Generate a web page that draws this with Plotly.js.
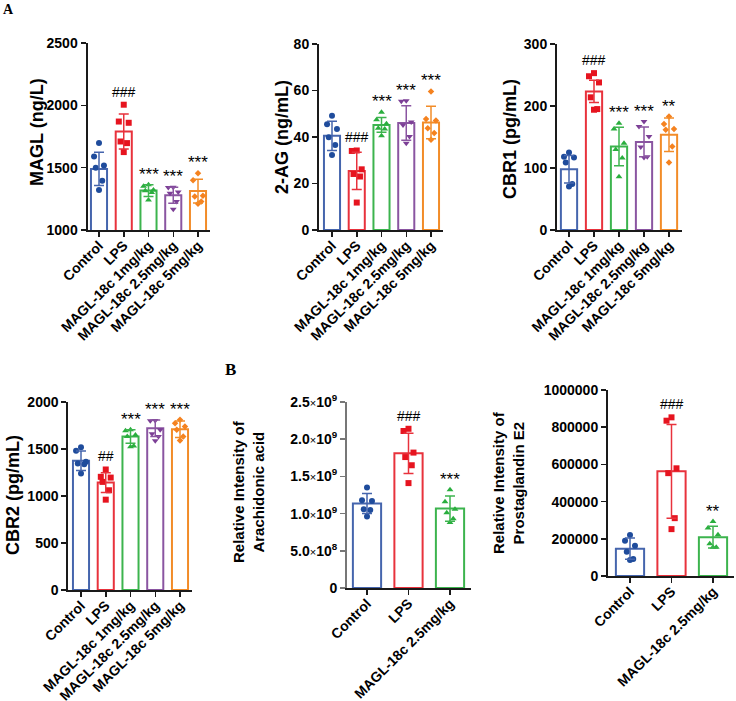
<!DOCTYPE html>
<html><head><meta charset="utf-8">
<script src="https://cdn.plot.ly/plotly-3.0.1.min.js"></script>
<style>html,body{margin:0;padding:0;background:#fff}#chart{width:736px;height:701px}</style>
</head><body><div id="chart"></div>
<script>
// ---------------- data ----------------
const groups5 = ['Control', 'LPS', 'MAGL-18c 1mg/kg', 'MAGL-18c 2.5mg/kg', 'MAGL-18c 5mg/kg'];
const groups3 = ['Control', 'LPS', 'MAGL-18c 2.5mg/kg'];

const maglPoints = [[1697, 1590, 1517, 1500, 1396, 1320], [2005, 1870, 1860, 1710, 1697, 1625], [1362, 1350, 1320, 1315, 1300, 1240], [1343, 1340, 1305, 1295, 1228, 1166], [1455, 1400, 1275, 1268, 1228, 1210]];
const maglMean = [1490, 1790, 1316, 1278, 1312];
const maglSD = [134, 140, 47, 64, 96];
const maglMarks = ['', '###', '***', '***', '***'];

const agPoints = [[49.1, 45.5, 43.4, 39.9, 36.6, 32.3], [34.2, 34.0, 26.1, 24.1, 23.0, 11.8], [50.6, 47.4, 45.7, 43.8, 43.4, 40.5], [55.6, 55.4, 46.5, 45.2, 40.2, 37.3], [59.6, 47.7, 47.1, 43.8, 41.7, 38.8]];
const agMean = [40.5, 25.4, 45.2, 46.0, 46.2];
const agSD = [6.3, 8.0, 3.2, 7.4, 7.0];
const agMarks = ['', '###', '***', '***', '***'];

const cbr1Points = [[125, 118, 117, 109, 74, 70], [253, 248, 238, 214, 195, 194], [172, 163, 140, 130, 116, 86], [175, 167, 151, 134, 118, 117], [183, 171, 163, 161.6, 134.6, 109]];
const cbr1Mean = [98, 223.5, 134.6, 142, 153.5];
const cbr1SD = [22, 18, 31, 24, 27];
const cbr1Marks = ['', '###', '***', '***', '**'];

const cbr2Points = [[1518, 1482, 1364, 1346, 1339, 1239], [1282, 1204, 1196, 1150, 1061, 961], [1704, 1693, 1650, 1632, 1532, 1525], [1804, 1800, 1704, 1661, 1632, 1589], [1811, 1775, 1740, 1704, 1632, 1590]];
const cbr2Mean = [1375, 1143, 1632, 1721, 1711];
const cbr2SD = [105, 105, 72, 88, 88];
const cbr2Marks = ['', '##', '***', '***', '***'];

const aaPoints = [[1.35e9, 1.18e9, 1.17e9, 1.06e9, 1.05e9, 0.96e9], [2.14e9, 2.11e9, 1.82e9, 1.76e9, 1.65e9, 1.41e9], [1.32e9, 1.16e9, 1.06e9, 1.01e9, 0.93e9, 0.88e9]];
const aaMean = [1.135e9, 1.81e9, 1.067e9];
const aaSD = [0.135e9, 0.27e9, 0.17e9];
const aaMarks = ['', '###', '***'];
const aaTickVals = [0, 0.5e9, 1.0e9, 1.5e9, 2.0e9, 2.5e9];
const aaTickText = ['0', '5.0<span style="font-size:11px;font-weight:400">×</span>10<sup>8</sup>', '1.0<span style="font-size:11px;font-weight:400">×</span>10<sup>9</sup>', '1.5<span style="font-size:11px;font-weight:400">×</span>10<sup>9</sup>', '2.0<span style="font-size:11px;font-weight:400">×</span>10<sup>9</sup>', '2.5<span style="font-size:11px;font-weight:400">×</span>10<sup>9</sup>'];

const pgePoints = [[220000, 190000, 162000, 130000, 92000, 86000], [853000, 835000, 579000, 553000, 311000, 252000], [293000, 258000, 222000, 173000, 155000, 155000]];
const pgeMean = [147000, 563000, 209000];
const pgeSD = [57000, 252000, 58000];
const pgeMarks = ['', '###', '**'];

// ---------------- styling / layout ----------------
const W = 736, H = 701;
const FONT = 'Liberation Sans, Arial, Helvetica, sans-serif';
const barColors = ['#4565ad', '#e8323c', '#3cb44e', '#8a55a1', '#f28c28'];
const ptColors = ['#1f4c9c', '#e6141f', '#2aae3e', '#7c3f96', '#f5821f'];
const symbols = ['circle', 'square', 'triangle-up', 'triangle-down', 'diamond'];
const symSize = [6, 6, 6, 6, 5];
const jit = [0, -0.2, 0.2, -0.13, 0.13, 0];

const panels = [
  {cats: groups5, pts: maglPoints, mean: maglMean, sd: maglSD, marks: maglMarks, range: [1000, 2500], tickvals: [1000, 1500, 2000, 2500],
   g: {ax: 87.5, c0: 99, sp: 24.75, top: 43, bot: 230}, title: 'MAGL (ng/L)', tx: 37, ty: 132, tsize: 18},
  {cats: groups5, pts: agPoints, mean: agMean, sd: agSD, marks: agMarks, range: [0, 80], tickvals: [0, 20, 40, 60, 80],
   g: {ax: 319, c0: 332, sp: 24.75, top: 44, bot: 230}, title: '2-AG (ng/mL)', tx: 282, ty: 137, tsize: 18},
  {cats: groups5, pts: cbr1Points, mean: cbr1Mean, sd: cbr1SD, marks: cbr1Marks, range: [0, 300], tickvals: [0, 100, 200, 300],
   g: {ax: 557, c0: 569, sp: 25, top: 44, bot: 230}, title: 'CBR1 (pg/mL)', tx: 510, ty: 139, tsize: 18},
  {cats: groups5, pts: cbr2Points, mean: cbr2Mean, sd: cbr2SD, marks: cbr2Marks, range: [0, 2000], tickvals: [0, 500, 1000, 1500, 2000],
   g: {ax: 68.3, c0: 81, sp: 24.75, top: 402, bot: 590}, title: 'CBR2 (pg/mL)', tx: 13, ty: 495, tsize: 18},
  {cats: groups3, pts: aaPoints, mean: aaMean, sd: aaSD, marks: aaMarks, range: [0, 2.5e9], tickvals: aaTickVals, ticktext: aaTickText,
   g: {ax: 347, c0: 367, sp: 41.5, top: 402, bot: 588}, title: 'Relative Intensity of<br>Arachidonic acid', tx: 248, ty: 492, tsize: 15, lineColor: '#777'},
  {cats: groups3, pts: pgePoints, mean: pgeMean, sd: pgeSD, marks: pgeMarks, range: [0, 1000000], tickvals: [0, 200000, 400000, 600000, 800000, 1000000],
   g: {ax: 608, c0: 630, sp: 41.5, top: 390, bot: 576}, title: 'Relative Intensity of<br>Prostaglandin E2', tx: 508, ty: 482, tsize: 15},
];

const data = [];
const layout = {
  width: W, height: H, margin: {l: 0, r: 0, t: 0, b: 0},
  paper_bgcolor: '#fff', plot_bgcolor: 'rgba(0,0,0,0)', showlegend: false,
  font: {family: FONT, color: '#000'},
  annotations: [], bargap: 0
};

panels.forEach((p, k) => {
  const n = p.cats.length;
  const xa = 'x' + (k + 1), ya = 'y' + (k + 1);
  const xk = k === 0 ? 'xaxis' : 'xaxis' + (k + 1);
  const yk = k === 0 ? 'yaxis' : 'yaxis' + (k + 1);
  const g = p.g;
  const left = g.ax, right = g.c0 + (n - 0.5) * g.sp;
  const idx = p.cats.map((_, i) => i);
  const lc = p.lineColor || '#1a1a1a';

  layout[xk] = {
    domain: [left / W, right / W], range: [-(g.c0 - g.ax) / g.sp, n - 0.5], anchor: ya,
    showgrid: false, zeroline: false, showline: true, linecolor: '#1a1a1a', linewidth: 2,
    ticks: 'outside', ticklen: 5, tickwidth: 1.5, tickcolor: '#1a1a1a', ticklabelstandoff: -5,
    tickvals: idx, ticktext: p.cats, tickangle: -45,
    tickfont: {family: FONT, size: 14, weight: 700, color: '#000'}, fixedrange: true
  };
  layout[yk] = {
    domain: [1 - g.bot / H, 1 - g.top / H], range: p.range, anchor: xa,
    showgrid: false, zeroline: false, showline: true, linecolor: lc, linewidth: 2,
    ticks: 'outside', ticklen: 5, tickwidth: 1.5, tickcolor: lc,
    tickvals: p.tickvals, ticktext: p.ticktext || p.tickvals.map(v => String(v)),
    tickfont: {family: FONT, size: 14, weight: 700, color: '#000'}, fixedrange: true
  };

  // bars
  data.push({
    type: 'bar', x: idx, y: p.mean, width: g.sp > 30 ? 0.68 : 0.65, xaxis: xa, yaxis: ya,
    marker: {color: 'rgba(255,255,255,0)', line: {color: barColors.slice(0, n), width: 2}},
    hoverinfo: 'skip', cliponaxis: true
  });

  p.cats.forEach((c, i) => {
    // points
    data.push({
      type: 'scatter', mode: 'markers', xaxis: xa, yaxis: ya,
      x: p.pts[i].map((_, j) => i + jit[j] * (g.sp > 30 ? 0.6 : 1)), y: p.pts[i],
      marker: {symbol: symbols[i], size: symSize[i], color: ptColors[i], line: {width: 0}},
      hoverinfo: 'skip', cliponaxis: false
    });
    // error bar
    data.push({
      type: 'scatter', mode: 'markers', xaxis: xa, yaxis: ya,
      x: [i], y: [p.mean[i]], marker: {size: 1, color: 'rgba(0,0,0,0)'},
      error_y: {type: 'data', array: [p.sd[i]], visible: true, color: barColors[i], thickness: 1.5, width: 5},
      hoverinfo: 'skip'
    });
    // significance mark
    if (p.marks[i]) {
      const topv = Math.max(Math.max(...p.pts[i]), p.mean[i] + p.sd[i]);
      const isHash = p.marks[i].includes('#');
      layout.annotations.push({
        xref: xa, yref: ya, x: i, y: topv, text: p.marks[i], showarrow: false,
        yanchor: 'bottom', xanchor: 'center', yshift: isHash ? 3 : -1,
        font: {family: FONT, size: isHash ? 14 : 17, color: '#000'}
      });
    }
  });

  // y-axis title
  layout.annotations.push({
    xref: 'paper', yref: 'paper', x: p.tx / W, y: 1 - p.ty / H, text: p.title, textangle: -90,
    showarrow: false, xanchor: 'center', yanchor: 'middle',
    font: {family: FONT, size: p.tsize, weight: 700, color: '#000'}
  });
});

// panel letters
layout.annotations.push({xref: 'paper', yref: 'paper', x: 8 / W, y: 1 - 9 / H, text: 'A', showarrow: false,
  xanchor: 'center', yanchor: 'middle', font: {family: 'Liberation Serif, Times New Roman, serif', size: 14, weight: 700, color: '#000'}});
layout.annotations.push({xref: 'paper', yref: 'paper', x: 230 / W, y: 1 - 369 / H, text: 'B', showarrow: false,
  xanchor: 'center', yanchor: 'middle', font: {family: 'Liberation Serif, Times New Roman, serif', size: 17, weight: 700, color: '#000'}});

Plotly.newPlot('chart', data, layout, {displayModeBar: false, staticPlot: true});
</script>
</body></html>
